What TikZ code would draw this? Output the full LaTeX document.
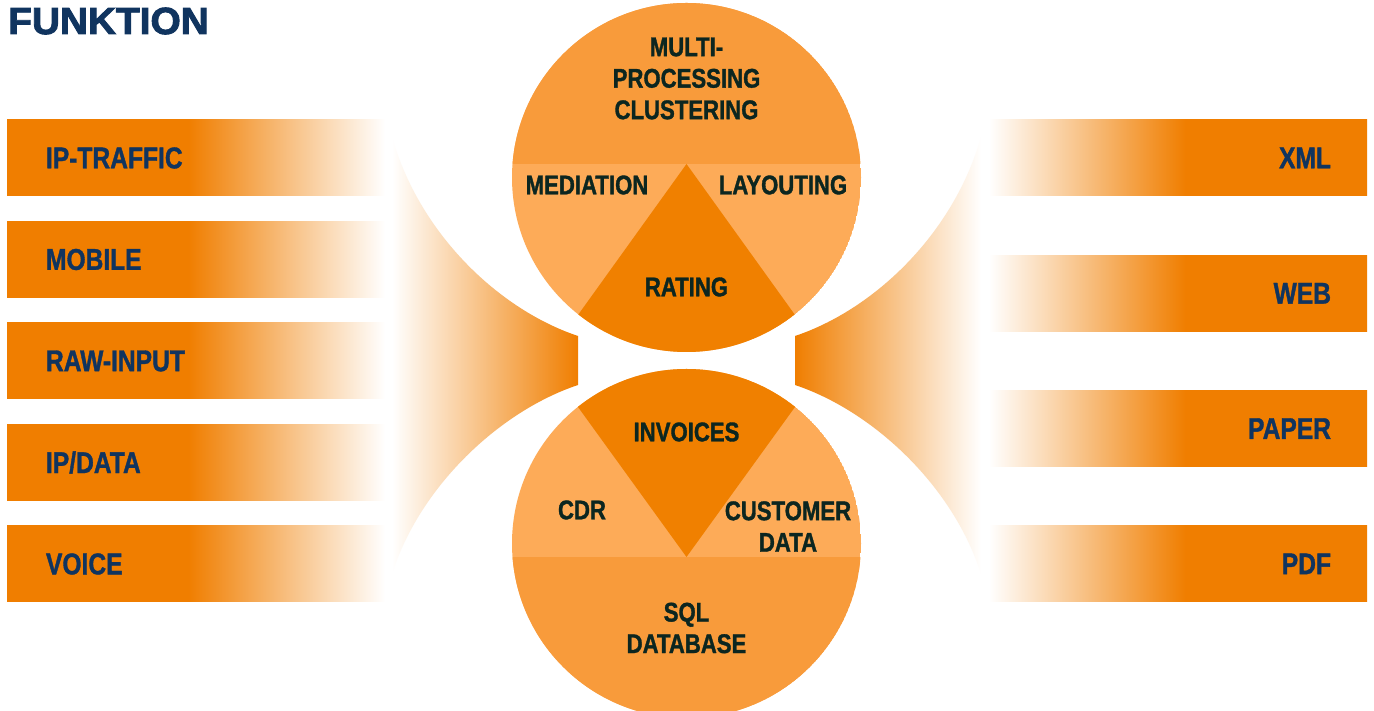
\documentclass[tikz,border=0pt]{standalone}
\usepackage{fontspec}
\setmainfont{Liberation Sans}
\newfontfamily\condfont{Liberation Sans}[UprightFont=* Bold, FakeStretch=0.82, FakeBold=1.2]
\newfontfamily\headfont{Liberation Sans}[UprightFont=* Bold, FakeStretch=1.03, FakeBold=2.5]
\usetikzlibrary{positioning}

\definecolor{barorange}{HTML}{F07E00}
\definecolor{pietop}{HTML}{F89B3B}
\definecolor{pieside}{HTML}{FDAB58}
\definecolor{piemid}{HTML}{F08000}
\definecolor{navy}{HTML}{10345F}
\definecolor{ink}{HTML}{0C2620}

% bars: solid on one half, fading to white on the other
\pgfdeclarehorizontalshading{fadeout}{100bp}{color(0bp)=(barorange); color(49bp)=(barorange); color(75bp)=(white); color(100bp)=(white)}
\pgfdeclarehorizontalshading{fadein}{100bp}{color(0bp)=(white); color(25bp)=(white); color(51bp)=(barorange); color(100bp)=(barorange)}

\begin{document}
\begin{tikzpicture}[x=1pt, y=1pt,
  inbar/.style={minimum height=76pt, text width=300pt, inner xsep=39pt, inner ysep=0pt,
               outer sep=0pt, align=left, shade, shading=fadeout, text=navy,
               font=\condfont\fontsize{30}{34}\selectfont},
  outbar/.style={inbar, text width=306pt, inner xsep=36pt, align=right, shading=fadein},
  piece/.style={text=ink, align=center, inner sep=0pt,
               font=\condfont\fontsize{27}{31.5}\selectfont},
  node distance=25.5pt
]
\useasboundingbox (0,0) rectangle (1374,711);
\fill[white] (0,0) rectangle (1374,711);

\node[anchor=base west, inner sep=0pt, text=navy,
      font=\headfont\fontsize{37.7}{40}\selectfont] (title) at (8,677) {FUNKTION};

% inputs
\node[inbar, anchor=north west] (iptraffic) at (7,591) {IP-TRAFFIC};
\node[inbar, below=of iptraffic] (mobile) {MOBILE};
\node[inbar, below=of mobile] (rawinput) {RAW-INPUT};
\node[inbar, below=of rawinput] (ipdata) {IP/DATA};
\node[inbar, below=of ipdata] (voice) {VOICE};

% outputs
\node[outbar, anchor=north east] (xml) at (1367,591) {XML};
\node[outbar, below=59.3pt of xml] (web) {WEB};
\node[outbar, below=59.3pt of web] (paper) {PAPER};
\node[outbar, below=59.3pt of paper] (pdf) {PDF};

% funnels
\shade[left color=white, right color=barorange]
  (392,574) .. controls (420,476) and (500,401) .. (578,375) -- (578,326)
  .. controls (500,300) and (420,225) .. (392,137) -- cycle;
\shade[left color=barorange, right color=white]
  (981,574) .. controls (953,476) and (873,401) .. (795,375) -- (795,326)
  .. controls (873,300) and (953,225) .. (981,137) -- cycle;

\coordinate (upper) at (686.5,533.5);
\coordinate (lower) at (686.5,167.5);

% upper disc
\begin{scope}
  \clip (upper) circle (174.5);
  \fill[pieside] (upper) circle (174.5);
  \fill[pietop] (upper) ++(-180,13.5) rectangle ++(360,180);
  \fill[piemid] (upper) ++(0,13.5) -- ++(-217,-302) -- ++(434,0) -- cycle;
\end{scope}

% lower disc
\begin{scope}
  \clip (lower) circle (174.5);
  \fill[pieside] (lower) circle (174.5);
  \fill[pietop] (lower) ++(-180,-13.5) rectangle ++(360,-180);
  \fill[piemid] (lower) ++(0,-13.5) -- ++(-217,300) -- ++(434,0) -- cycle;
\end{scope}

\node[piece] (multi) at ([yshift=99]upper) {MULTI-\\PROCESSING\\CLUSTERING};
\node[piece] (mediation) at ([shift={(-99.5,-7.5)}]upper) {MEDIATION};
\node[piece] (layouting) at ([shift={(96.5,-7.5)}]upper) {LAYOUTING};
\node[piece] (rating) at ([yshift=-109.5]upper) {RATING};

\node[piece] (invoices) at ([yshift=111.5]lower) {INVOICES};
\node[piece] (cdr) at ([shift={(-104.5,33.5)}]lower) {CDR};
\node[piece] (customer) at ([shift={(101.5,17)}]lower) {CUSTOMER\\DATA};
\node[piece] (sql) at ([yshift=-84.5]lower) {SQL\\DATABASE};
\end{tikzpicture}
\end{document}
